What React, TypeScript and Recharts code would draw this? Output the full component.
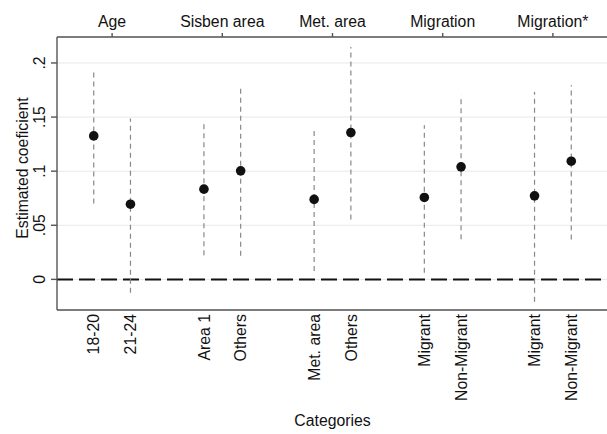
import React from "react";
import {
  ComposedChart,
  Scatter,
  ErrorBar,
  XAxis,
  YAxis,
  CartesianGrid,
  ReferenceLine,
} from "recharts";

const groups = ["Age", "Sisben area", "Met. area", "Migration", "Migration*"];
const categories = [
  "18-20",
  "21-24",
  "Area 1",
  "Others",
  "Met. area",
  "Others",
  "Migrant",
  "Non-Migrant",
  "Migrant",
  "Non-Migrant",
];
const coef = [0.1326, 0.0695, 0.0834, 0.1003, 0.0739, 0.1357, 0.0757, 0.104, 0.0772, 0.1092];
const ciLow = [0.0702, -0.0124, 0.0224, 0.0218, 0.0077, 0.0554, 0.0061, 0.0372, -0.0207, 0.0369];
const ciHigh = [0.1923, 0.1487, 0.144, 0.1785, 0.14, 0.2148, 0.1425, 0.17, 0.1732, 0.1794];
const yTicks = [0, 0.05, 0.1, 0.15, 0.2];
const yTickLabels = ["0", ".05", ".1", ".15", ".2"];

const FONT = "'Liberation Sans', Arial, Helvetica, sans-serif";
const FS = 15.8;

// two categories per group, placed either side of the group's tick
const xPos = categories.map((_, i) => Math.floor(i / 2) + 1 + (i % 2 === 0 ? -1 : 1) / 6);

const data = categories.map((name, i) => ({
  name,
  x: xPos[i],
  y: coef[i],
  err: [coef[i] - ciLow[i], ciHigh[i] - coef[i]],
}));

const nearest = (arr: number[], v: number) => {
  let best = 0;
  arr.forEach((a, i) => {
    if (Math.abs(a - v) < Math.abs(arr[best] - v)) best = i;
  });
  return best;
};

const BottomTick = (props: any) => {
  const { x, y, payload } = props;
  return (
    <g transform={`translate(${x},${y})`}>
      <text transform="rotate(-90)" textAnchor="end" dy="0.36em" fontFamily={FONT} fontSize={FS} fill="#111">
        {categories[nearest(xPos, payload.value)]}
      </text>
    </g>
  );
};

const LeftTick = (props: any) => {
  const { x, y, payload } = props;
  return (
    <g transform={`translate(${x},${y})`}>
      <text transform="rotate(-90)" textAnchor="middle" fontFamily={FONT} fontSize={FS} fill="#111">
        {yTickLabels[nearest(yTicks, payload.value)]}
      </text>
    </g>
  );
};

const Dot = (props: any) => <circle cx={props.cx} cy={props.cy} r={4.8} fill="#111" />;

export default function App() {
  return (
    <div style={{ position: "absolute", left: 0, top: 0, width: 607, height: 434, overflow: "hidden", background: "#fff" }}>
      <ComposedChart width={608} height={434} data={data} margin={{ top: 0, right: 0, bottom: 0, left: 0 }}>
        <CartesianGrid vertical={false} stroke="#e8e8e8" strokeWidth={1} xAxisId="bottom" />
        <XAxis
          xAxisId="top"
          orientation="top"
          type="number"
          dataKey="x"
          domain={[0.5, 5.5]}
          allowDataOverflow
          ticks={[1, 2, 3, 4, 5]}
          interval={0}
          tickFormatter={(v: number) => groups[v - 1]}
          height={37}
          tickSize={4}
          tickMargin={6}
          stroke="#555"
          strokeWidth={1.4}
          tick={{ fontFamily: FONT, fontSize: FS, fill: "#111" }}
        />
        <XAxis
          xAxisId="bottom"
          type="number"
          dataKey="x"
          domain={[0.5, 5.5]}
          allowDataOverflow
          ticks={xPos}
          interval={0}
          height={124}
          tickSize={0}
          tickMargin={4}
          stroke="#555"
          strokeWidth={1.4}
          tick={<BottomTick />}
          label={{
            value: "Categories",
            position: "insideBottom",
            offset: 8,
            style: { fontFamily: FONT, fontSize: FS, fill: "#111" },
          }}
        />
        <YAxis
          type="number"
          domain={[-0.0283, 0.224]}
          allowDataOverflow
          ticks={yTicks}
          interval={0}
          width={57}
          tickSize={6}
          tickMargin={6}
          stroke="#555"
          strokeWidth={1.4}
          tick={<LeftTick />}
          label={{
            content: () => (
              <text
                x={22}
                y={168}
                transform="rotate(-90, 22, 168)"
                textAnchor="middle"
                dominantBaseline="central"
                fontFamily={FONT}
                fontSize={FS}
                fill="#111"
              >
                Estimated coeficient
              </text>
            ),
          }}
        />
        <ReferenceLine xAxisId="bottom" y={0} stroke="#111" strokeWidth={2} strokeDasharray="16 6" />
        <Scatter xAxisId="bottom" dataKey="y" shape={<Dot />} isAnimationActive={false}>
          <ErrorBar dataKey="err" direction="y" width={0} stroke="#888" strokeWidth={1.2} strokeDasharray="5 4" />
        </Scatter>
      </ComposedChart>
    </div>
  );
}
